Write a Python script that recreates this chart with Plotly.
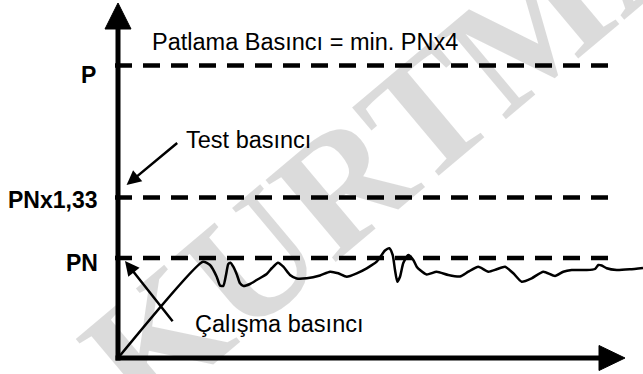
import plotly.graph_objects as go

# Working-pressure trace (time, pressure) in schematic units, PN = 100
t_curve = [0, 85, 92, 98.7, 102, 105.3, 108, 110.3, 112.5, 115.3, 119, 122, 125.5, 132,
           138.7, 148.7, 154, 160, 165.3, 172, 178.7, 188.7, 202, 212, 220.3, 228.7,
           238.7, 248.7, 258.7, 267, 271.3, 274.7, 277, 279.3, 282, 285.3, 290.3, 295.3,
           298.7, 302, 308.7, 318.7, 330.3, 342, 350.3, 360.3, 370.3, 378.7, 387, 395.3,
           403.7, 413.7, 425.3, 437, 445.3, 453.7, 468.7, 477, 480.3, 483.7, 488.7, 498.7,
           512, 525]
p_curve = [0, 96.3, 93, 81.3, 72.5, 72, 83, 94, 95.3, 91.3, 83, 74.7, 72, 74,
           78, 84, 90, 95.3, 91.3, 83, 79.5, 79.7, 82.5, 86.3, 84.7, 81.3,
           84.7, 89.7, 96.3, 107.5, 109.7, 103, 88, 76.3, 81.3, 95, 103, 98,
           91.3, 88, 83.5, 86.3, 83, 81.5, 86.3, 91.3, 86.3, 88.7, 91.3, 84.7,
           76.3, 79.7, 86.3, 82, 86.3, 88, 88, 89, 93, 92.5, 89.7, 88,
           88.7, 90]

# Reference pressure levels (schematic heights) and their labels
level_names = ["P", "PNx1,33", "PN"]
level_values = [292.5, 160.5, 100]
level_label_y = [283.3, 158.5, 95.5]

t_end = 501          # end of the dashed reference lines
t_axis_end = 507     # tip of the time axis arrow
p_axis_end = 355     # tip of the pressure axis arrow

BLACK = "#000000"
FONT = "Liberation Sans, Arial, sans-serif"

fig = go.Figure()

# dashed reference levels
for v in level_values:
    fig.add_trace(go.Scatter(
        x=[-3, t_end], y=[v, v], mode="lines",
        line=dict(color=BLACK, width=4.5, dash="17px,11px"),
        hoverinfo="skip", showlegend=False))

# working pressure curve
fig.add_trace(go.Scatter(
    x=t_curve, y=p_curve, mode="lines",
    line=dict(color=BLACK, width=2.5, shape="spline", smoothing=0.55),
    hoverinfo="skip", showlegend=False))

shapes = [
    # pressure axis
    dict(type="line", x0=0, y0=-2.5, x1=0, y1=p_axis_end - 26,
         line=dict(color=BLACK, width=5), layer="above"),
    dict(type="path", path=f"M -13,{p_axis_end-26} L 13,{p_axis_end-26} L 0,{p_axis_end} Z",
         fillcolor=BLACK, line=dict(color=BLACK, width=1), layer="above"),
    # time axis
    dict(type="line", x0=-2.5, y0=0, x1=t_axis_end - 26, y1=0,
         line=dict(color=BLACK, width=5), layer="above"),
    dict(type="path", path=f"M {t_axis_end-26},-12.5 L {t_axis_end-26},12.5 L {t_axis_end},0 Z",
         fillcolor=BLACK, line=dict(color=BLACK, width=1), layer="above"),
]

annotations = [
    # faint watermark (translucent black so the drawing stays dark underneath)
    dict(x=320, y=255, xref="x", yref="y", text="<b>KURTMAN</b>", showarrow=False,
         textangle=-40, font=dict(family="Liberation Serif, Times New Roman, serif",
                                  size=165, color="rgba(0,0,0,0.14)"),
         xanchor="center", yanchor="middle"),
]

for name, ly in zip(level_names, level_label_y):
    annotations.append(dict(
        x=-18 if name != "P" else -20, y=ly, xref="x", yref="y",
        text=f"<b>{name}</b>", showarrow=False,
        font=dict(family=FONT, size=23, color=BLACK),
        xanchor="right", yanchor="middle"))

annotations += [
    dict(x=32, y=316.5, xref="x", yref="y", text="Patlama Basıncı = min. PNx4",
         showarrow=False, font=dict(family=FONT, size=23.5, color=BLACK),
         xanchor="left", yanchor="middle"),
    dict(x=66, y=218, xref="x", yref="y", text="Test basıncı",
         showarrow=False, font=dict(family=FONT, size=23.5, color=BLACK),
         xanchor="left", yanchor="middle"),
    dict(x=75, y=34, xref="x", yref="y", text="Çalışma basıncı",
         showarrow=False, font=dict(family=FONT, size=23.5, color=BLACK),
         xanchor="left", yanchor="middle"),
    # pointer arrows
    dict(x=8.6, y=173, ax=60.7, ay=216.3, xref="x", yref="y", axref="x", ayref="y",
         text="", showarrow=True, arrowhead=2, arrowsize=1.15, arrowwidth=2.5,
         arrowcolor=BLACK),
    dict(x=7, y=97, ax=55.8, ay=35.3, xref="x", yref="y", axref="x", ayref="y",
         text="", showarrow=True, arrowhead=2, arrowsize=1.15, arrowwidth=2.5,
         arrowcolor=BLACK),
]

fig.update_layout(
    width=643, height=374,
    margin=dict(l=0, r=0, t=0, b=0),
    paper_bgcolor="white", plot_bgcolor="white",
    xaxis=dict(range=[-118, 525], visible=False, fixedrange=True),
    yaxis=dict(range=[-16, 358], visible=False, fixedrange=True),
    shapes=shapes, annotations=annotations,
    showlegend=False,
)

fig.write_html("out.html", config=dict(displayModeBar=False))
